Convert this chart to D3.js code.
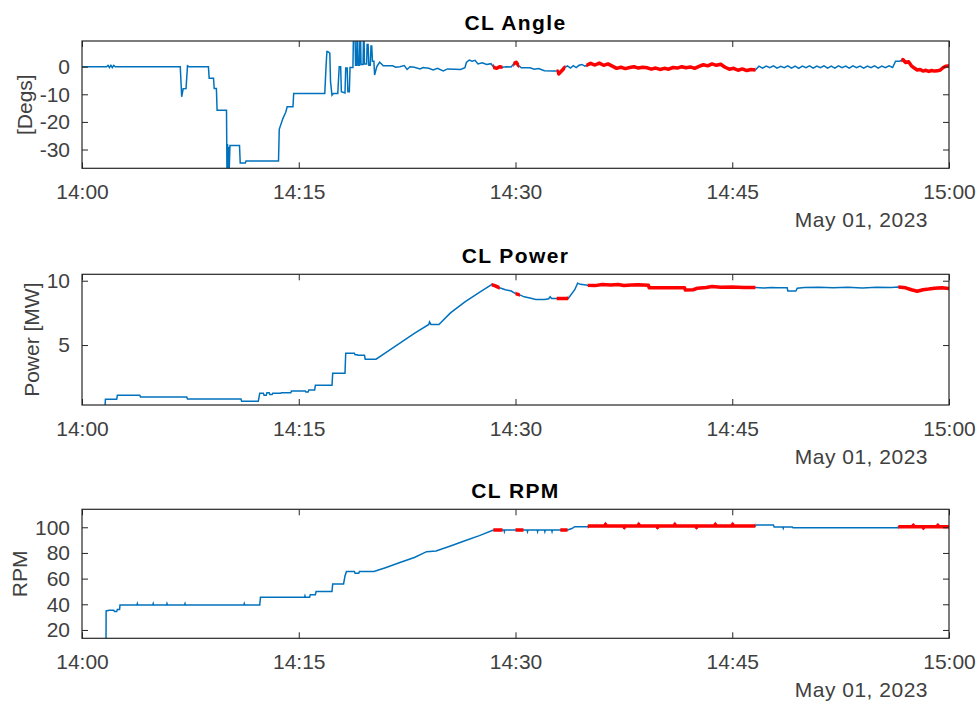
<!DOCTYPE html>
<html>
<head>
<meta charset="utf-8">
<script src="https://cdn.jsdelivr.net/npm/d3@7"></script>
<style>
  body { margin: 0; background: #fff; }
  svg { font-family: "Liberation Sans", Arial, Helvetica, sans-serif; }
</style>
</head>
<body>
<div id="chart"></div>
<script>
// Minutes after 14:00 on May 01, 2023

const angleT = [0, 1.7, 1.8, 1.9, 2.0, 2.1, 2.2, 2.3, 6.8, 6.9, 7.0, 7.2, 7.3, 7.4, 8.75, 8.8, 9.1, 9.15, 9.3, 9.35,
  10.0, 10.03, 10.07, 10.11, 10.15, 10.19, 10.24, 10.9, 10.95, 11.3, 11.35, 13.6, 13.65, 13.9, 14.1, 14.2, 14.6, 14.65,
  16.8, 16.9, 16.95, 17.0, 17.15, 17.2, 17.3, 17.4, 17.7, 17.8, 17.9, 17.95, 18.2, 18.25, 18.35, 18.4, 18.5, 18.55,
  18.75, 18.78, 18.9, 18.93, 19.0, 19.03, 19.08, 19.11, 19.2, 19.23, 19.28, 19.31, 19.45, 19.48, 19.52, 19.55, 19.7,
  19.73, 19.8, 19.85, 19.95, 20.0, 20.05, 20.1, 20.2, 20.25, 20.4, 20.6, 20.85, 21.5, 21.7, 22.0, 22.3,
  22.5, 22.7, 23.0, 23.4, 23.6, 24.0, 24.3, 24.6, 25.0, 25.3, 25.8, 26.2, 26.5, 26.6, 26.8, 27.0, 27.2, 27.4, 27.7,
  28.0, 28.3, 28.5, 28.7, 28.9, 29.1, 29.4, 29.7, 29.9, 30.05, 30.2, 30.4, 31.0, 31.3, 31.6, 32.0, 32.6, 32.9, 33.0,
  33.2, 33.4, 33.6, 33.8, 34.0, 34.2, 34.4, 34.6, 34.8,
  34.9, 35.2, 35.5, 35.8, 36.1, 36.4, 36.7, 37.0, 37.3, 37.6, 37.9, 38.2, 38.5, 38.8, 39.1, 39.4, 39.7, 40.0, 40.3,
  40.6, 40.9, 41.2, 41.5, 41.8, 42.1, 42.4, 42.7, 43.0, 43.3, 43.6, 43.9, 44.2, 44.5, 44.8, 45.1, 45.4, 45.7, 46.0,
  46.3, 46.6,
  46.85, 47.1, 47.35, 47.6, 47.85, 48.1, 48.35, 48.6, 48.85, 49.1, 49.35, 49.6, 49.85, 50.1, 50.35, 50.6, 50.85,
  51.1, 51.35, 51.6, 51.85, 52.1, 52.35, 52.6, 52.85, 53.1, 53.35, 53.6, 53.85, 54.1, 54.35, 54.6, 54.85, 55.1,
  55.35, 55.6, 55.85, 56.1, 56.3, 56.6,
  56.8, 57.0, 57.2, 57.4, 57.6, 57.8, 58.0, 58.2, 58.4, 58.6, 58.8, 59.0, 59.2, 59.4, 59.6, 59.8, 60];
const angleV = [0, 0, 0.5, -0.3, 0.5, -0.3, 0.5, 0, 0, -10.9, -8.0, -7.9, 0.3, 0, 0, -4.2, -4.2, -7.9, -7.9, -15.8,
  -15.8, -37, -28, -37, -29, -37, -28.5, -28.5, -34.9, -34.9, -34.2, -34.2, -22.7, -18.8, -16.5, -14.5, -14.5, -9.7,
  -9.7, 1.2, 5.5, 5.5, 4.9, -5.5, -10.3, -9.7, -9.7, 0, 0, -9.1, -9.5, -0.5, -0.5, -9.1, -9.1, -0.3,
  -0.3, 10, 10, 0.5, 0.5, 10, 10, 0.5, 0.5, 10, 10, 0.8, 0.8, 10, 10, 1, 1,
  8, 8, 0.5, 0.5, 7.5, 7.5, 2, 2, -3, 0, 1.6, 0.3, 0.3, -0.2, 0, 0.4,
  -1.0, 0, -0.2, -0.8, -0.3, -0.6, -1.2, -0.6, -1.5, -0.8, -0.9, -1.0, -0.4, 1.5, 2.4, 2.0, 2.3, 1.0, 1.4,
  0.8, 1.1, -0.3, -0.6, 0, -0.2, 0, -0.1, 1.2, 1.6, 0.5, -0.4, -0.4, -0.9, -0.7, -1.5, -1.6, -1.6, -2.6,
  -1.5, -0.3, 0.3, -0.5, 0.4, -0.3, 0.5, 0.8, 0.2,
  0.5, 1.2, 0.6, 1.3, 0.5, 1.0, 0.2, -0.6, -0.2, -0.7, -0.3, 0, -0.5, -0.2, -0.4, -0.9, -0.5, -1.0, -0.6,
  -0.9, -0.3, -0.5, 0, -0.4, -0.1, -0.6, 0.1, 0.7, 0.3, 1.0, 0.5, 0.9, -0.2, -0.9, -0.6, -1.3, -0.8, -1.4,
  -1.0, -1.2,
  0.2, -0.5, 0.2, -0.4, 0.3, -0.5, 0.1, -0.4, 0.3, -0.5, 0.2, -0.6, 0.2, -0.4, 0.3, -0.5, 0.2,
  -0.4, 0.3, -0.5, 0.2, -0.5, 0.3, -0.4, 0.2, -0.5, 0.3, -0.4, 0.2, -0.5, 0.2, -0.4, 0.3, -0.5,
  0.2, -0.4, 0.3, -0.3, 2.0, 2.0,
  2.6, 1.5, 1.8, 0.3, -0.5, -1.2, -1.0, -1.6, -1.3, -1.7, -1.4, -1.6, -1.5, -1.2, -0.3, 0.2, 0.3];
const angleRed = [[28.45, 29.1], [29.85, 30.25], [32.85, 33.45], [34.9, 46.6], [56.7, 60]];

const powerT = [1.6, 1.62, 2.4, 2.45, 4.0, 4.05, 7.25, 7.3, 11.0, 11.05, 12.2, 12.3, 12.55, 12.6, 12.75, 12.8,
  12.95, 13.0, 13.15, 13.2, 13.75, 13.8, 14.45, 14.5, 15.45, 15.5, 15.65, 15.7, 16.1, 16.15, 17.3, 17.35, 18.2,
  18.25, 18.85, 18.9, 19.05, 19.1, 19.55, 19.6, 20.35, 21.0, 22.0, 23.0, 24.0, 24.05, 24.15, 24.7, 25.5, 26.5,
  27.5, 28.35, 28.6, 28.9, 29.3, 29.7, 30.0, 30.3, 30.6, 31.0, 31.4, 32.0, 32.3, 32.4, 32.5, 33.65, 34.1, 34.3,
  34.5, 35.0, 35.5, 36.0, 36.6, 37.1, 37.5, 38.0, 38.5, 39.2, 39.25, 41.7, 41.75, 42.3, 42.6, 43.2, 43.6, 44.2,
  45.0, 45.8, 46.6, 47.2, 47.7, 48.2, 48.8, 48.85, 49.4, 49.5, 50.0, 51.0, 52.0, 53.0, 54.0, 55.0, 56.0, 56.5,
  57.0, 57.4, 57.8, 58.2, 58.6, 59.0, 59.5, 60];
const powerV = [0.3, 0.78, 0.78, 1.09, 1.09, 0.96, 0.96, 0.81, 0.81, 0.63, 0.63, 1.25, 1.25, 1.1, 1.1, 1.3,
  1.3, 1.15, 1.15, 1.25, 1.25, 1.3, 1.3, 1.43, 1.43, 1.35, 1.35, 1.5, 1.5, 1.87, 1.87, 2.8, 2.8,
  4.36, 4.36, 4.25, 4.25, 4.2, 4.2, 3.9, 3.9, 4.4, 5.15, 5.9, 6.6, 6.8, 6.6, 6.6, 7.5, 8.35,
  9.1, 9.7, 9.6, 9.45, 9.3, 9.2, 9.0, 8.9, 8.75, 8.65, 8.55, 8.55, 8.6, 8.75, 8.62, 8.62, 9.3, 9.8,
  9.72, 9.65, 9.62, 9.7, 9.66, 9.7, 9.63, 9.66, 9.68, 9.64, 9.46, 9.46, 9.28, 9.3, 9.42, 9.48, 9.55, 9.5,
  9.52, 9.47, 9.48, 9.43, 9.48, 9.45, 9.45, 9.2, 9.2, 9.42, 9.47, 9.5, 9.46, 9.5, 9.44, 9.5, 9.48, 9.52,
  9.45, 9.3, 9.18, 9.3, 9.35, 9.42, 9.45, 9.4];
const powerRed = [[28.35, 28.9], [30.0, 30.3], [32.85, 33.65], [35.0, 46.6], [56.5, 60]];

const rpmT = [1.66, 1.67, 1.9, 2.2, 2.25, 2.4, 2.45, 2.6, 2.63, 3.8, 3.83, 3.86, 4.9, 4.93, 4.96, 5.85, 5.88, 5.91,
  7.1, 7.13, 7.16, 11.2, 11.23, 11.26, 12.3, 12.35, 15.4, 15.43, 15.46, 15.75, 15.8, 16.15, 16.2, 17.3, 17.35,
  18.1, 18.2, 18.3, 18.85, 18.9, 19.15, 19.2, 20.2, 21.0, 22.0, 23.0, 23.85, 24.5, 25.5, 26.5, 27.5, 28.47,
  29.2, 29.23, 29.26, 30.8, 30.83, 30.86, 31.5, 31.53, 31.56, 32.0, 32.03, 32.06, 32.5, 32.53, 32.56, 33.6, 33.9,
  34.1, 35.0, 35.05, 36.2, 36.23, 36.26, 37.5, 37.53, 37.56, 38.5, 38.53, 38.56, 39.8, 39.83, 39.86, 41.0,
  41.03, 41.06, 42.5, 42.53, 42.56, 43.8, 43.83, 43.86, 45.0, 45.03, 45.06, 46.6, 46.65, 47.85, 47.9, 48.5,
  48.53, 48.56, 49.15, 49.2, 56.45, 56.5, 57.5, 57.53, 57.56, 58.2, 58.23, 58.26, 59.2, 59.23, 59.26, 60];
const rpmV = [5, 34.8, 35.3, 35.3, 34.3, 34.3, 36, 36, 39.5, 39.5, 40.6, 39.5, 39.5, 40.6, 39.5, 39.5, 40.6, 39.5,
  39.5, 40.6, 39.5, 39.5, 40.6, 39.5, 39.5, 45.5, 45.5, 46.6, 45.5, 45.5, 47.5, 47.5, 49.9, 49.9, 55.8,
  55.8, 62, 65.5, 65.5, 64.2, 64.2, 65.5, 65.5, 68.5, 72.5, 76.5, 81, 81.5, 85.4, 89.5, 93.5, 97.9,
  97.9, 96.6, 97.9, 97.9, 96.6, 97.9, 97.9, 96.6, 97.9, 97.9, 96.6, 97.9, 97.9, 96.6, 97.9, 97.9, 99,
  100.5, 100.5, 101, 101, 102.3, 101, 101, 99.8, 101, 101, 102.3, 101, 101, 99.8, 101, 101,
  102.3, 101, 101, 99.8, 101, 101, 102.3, 101, 101, 102.3, 101, 101, 101.8, 101.8, 100.2, 100.2,
  99.2, 100.2, 100.2, 99.7, 99.7, 100.5, 100.5, 101.6, 100.5, 100.5, 99.4, 100.5, 100.5, 101.6, 100.5, 100.5];
const rpmRed = [[28.47, 29.1], [30.0, 30.55], [33.1, 33.6], [35.0, 46.6], [56.5, 60]];

const xTickMinutes = [0, 15, 30, 45, 60];
const dateLabel = "May 01, 2023";

const panels = [
  { title: "CL Angle", ylabel: "[Degs]", t: angleT, v: angleV, red: angleRed,
    domain: [-36.8, 9.3], ticks: [-30, -20, -10, 0], top: 41, bottom: 168.3, ylabelX: 25 },
  { title: "CL Power", ylabel: "Power [MW]", t: powerT, v: powerV, red: powerRed,
    domain: [0.34, 10.5], ticks: [5, 10], top: 274.3, bottom: 405, ylabelX: 32 },
  { title: "CL RPM", ylabel: "RPM", t: rpmT, v: rpmV, red: rpmRed,
    domain: [13.5, 114], ticks: [20, 40, 60, 80, 100], top: 509.3, bottom: 638.3, ylabelX: 20 }
];

const W = 980, H = 704;
const left = 82, right = 949;
const t0 = new Date(2023, 4, 1, 14, 0);
const toDate = m => new Date(t0.getTime() + m * 60000);

const svg = d3.select("#chart").append("svg")
  .attr("width", W)
  .attr("height", H);

const x = d3.scaleTime()
  .domain([toDate(0), toDate(60)])
  .range([left, right]);

const fmt = d3.timeFormat("%H:%M");
const axisColor = "#262626";
const textColor = "#404040";

panels.forEach((p, i) => {
  const y = d3.scaleLinear().domain(p.domain).range([p.bottom, p.top]);
  const data = p.t.map((t, j) => ({ date: toDate(t), value: p.v[j] }));

  // Clip to axes box
  svg.append("clipPath").attr("id", "clip" + i)
    .append("rect")
    .attr("x", left).attr("y", p.top)
    .attr("width", right - left).attr("height", p.bottom - p.top);

  // Clip for red flagged ranges
  const redClip = svg.append("clipPath").attr("id", "red" + i);
  redClip.selectAll("rect")
    .data(p.red)
    .join("rect")
    .attr("x", d => x(toDate(d[0])))
    .attr("width", d => x(toDate(d[1])) - x(toDate(d[0])))
    .attr("y", p.top)
    .attr("height", p.bottom - p.top);

  const line = d3.line()
    .x(d => x(d.date))
    .y(d => y(d.value));

  const g = svg.append("g");

  g.append("g").attr("clip-path", "url(#clip" + i + ")")
    .append("path")
    .attr("d", line(data))
    .attr("fill", "none")
    .attr("stroke", "#0072BD")
    .attr("stroke-width", 1.5);

  g.append("g").attr("clip-path", "url(#red" + i + ")")
    .append("path")
    .attr("d", line(data))
    .attr("fill", "none")
    .attr("stroke", "#FF0000")
    .attr("stroke-width", 3.5)
    .attr("stroke-linejoin", "round");

  // Axes (ticks point inward, MATLAB style)
  const xVals = xTickMinutes.map(toDate);
  g.append("g")
    .attr("transform", "translate(0," + p.bottom + ")")
    .call(d3.axisBottom(x).tickValues(xVals).tickFormat(fmt).tickSize(-6).tickPadding(16));
  g.append("g")
    .attr("transform", "translate(0," + p.top + ")")
    .call(d3.axisTop(x).tickValues(xVals).tickFormat("").tickSize(-6));
  g.append("g")
    .attr("transform", "translate(" + left + ",0)")
    .call(d3.axisLeft(y).tickValues(p.ticks).tickFormat(d => String(d)).tickSize(-6).tickPadding(12));
  g.append("g")
    .attr("transform", "translate(" + right + ",0)")
    .call(d3.axisRight(y).tickValues(p.ticks).tickFormat("").tickSize(-6));

  g.selectAll(".domain").remove();
  g.selectAll(".tick line").attr("stroke", axisColor).attr("stroke-width", 1);
  g.selectAll(".tick text")
    .attr("fill", textColor)
    .attr("font-size", "21px")
    .attr("font-family", "'Liberation Sans', Arial, sans-serif");

  // Box
  g.append("rect")
    .attr("x", left).attr("y", p.top)
    .attr("width", right - left).attr("height", p.bottom - p.top)
    .attr("fill", "none")
    .attr("stroke", axisColor)
    .attr("stroke-width", 1.2);

  // Title
  g.append("text")
    .attr("x", (left + right) / 2)
    .attr("y", p.top - 11)
    .attr("text-anchor", "middle")
    .attr("font-size", "21px")
    .attr("font-weight", "bold")
    .attr("letter-spacing", "1.4px")
    .attr("fill", "#000")
    .text(p.title);

  // Y label
  g.append("text")
    .attr("transform", "translate(" + p.ylabelX + "," + (p.top + p.bottom) / 2 + ") rotate(-90)")
    .attr("text-anchor", "middle")
    .attr("dy", "0.35em")
    .attr("font-size", "21px")
    .attr("fill", textColor)
    .text(p.ylabel);

  // Date label
  g.append("text")
    .attr("x", 928)
    .attr("y", p.bottom + 58.7)
    .attr("text-anchor", "end")
    .attr("font-size", "21px")
    .attr("letter-spacing", "0.5px")
    .attr("fill", textColor)
    .text(dateLabel);
});
</script>
</body>
</html>
